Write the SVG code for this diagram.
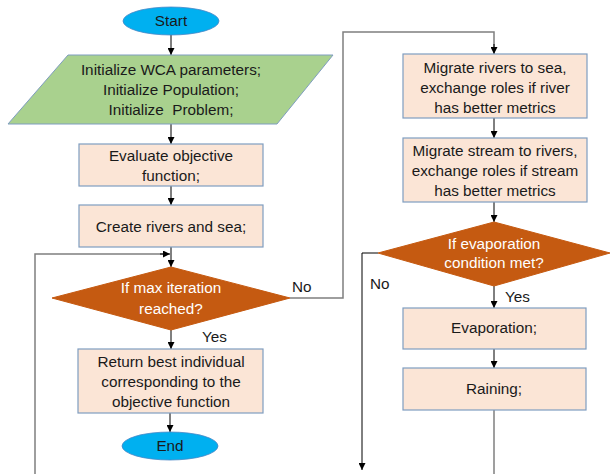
<svg xmlns="http://www.w3.org/2000/svg" width="610" height="474" viewBox="0 0 610 474">
<defs>
<marker id="ah" viewBox="0 0 10 10" refX="10" refY="5" markerWidth="7" markerHeight="7" markerUnits="userSpaceOnUse" orient="auto">
<path d="M0,0 L10,5 L0,10 z" fill="#000"/>
</marker>
</defs>
<style>
text{font-family:"Liberation Sans",Arial,sans-serif;font-size:15.3px;fill:#1a1a1a;text-anchor:middle}
.box{fill:#FBE5D6;stroke:#7F9DC0;stroke-width:1.2}
.term{fill:#00B0F0;stroke:#4A86C5;stroke-width:0.8}
.dec{fill:#C55A11;stroke:#C55A11}
.dt{fill:#fff}
.lbl{text-anchor:start}
.c{fill:none;stroke:#000;stroke-width:1}
.g{fill:none;stroke:#7F7F7F;stroke-width:1.5}
</style>
<rect width="610" height="474" fill="#fff"/>
<g id="connectors">
<line class="c" x1="171" y1="35" x2="171" y2="55" marker-end="url(#ah)"/>
<line class="c" x1="171" y1="124" x2="171" y2="144" marker-end="url(#ah)"/>
<line class="c" x1="171" y1="186" x2="171" y2="205" marker-end="url(#ah)"/>
<line class="c" x1="171" y1="247" x2="171" y2="267" marker-end="url(#ah)"/>
<polyline class="g" points="35,474 35,254 168,254"/>
<line class="c" x1="160" y1="254" x2="170" y2="254" marker-end="url(#ah)"/>
<polyline class="g" points="290,298 343,298 343,32 494,32 494,48"/>
<line class="c" x1="494" y1="44" x2="494" y2="54" marker-end="url(#ah)"/>
<line class="c" x1="171" y1="330" x2="171" y2="349" marker-end="url(#ah)"/>
<line class="c" x1="170" y1="413" x2="170" y2="432" marker-end="url(#ah)"/>
<line class="c" x1="494" y1="118" x2="494" y2="138" marker-end="url(#ah)"/>
<line class="c" x1="494" y1="202" x2="494" y2="222" marker-end="url(#ah)"/>
<polyline class="c" points="378,253 362,253 362,470" marker-end="url(#ah)"/>
<line class="c" x1="494" y1="286" x2="494" y2="308" marker-end="url(#ah)"/>
<line class="c" x1="494" y1="349" x2="494" y2="368" marker-end="url(#ah)"/>
<line class="g" x1="494" y1="410" x2="494" y2="474"/>
<text class="lbl" x="292" y="292">No</text>
<text class="lbl" x="202" y="342">Yes</text>
<text class="lbl" x="370" y="289">No</text>
<text class="lbl" x="505" y="302">Yes</text>
</g>
<g id="start">
<ellipse class="term" cx="171" cy="21" rx="48" ry="14"/>
<text x="171" y="26">Start</text>
</g>
<g id="init">
<polygon points="68,55 333,55 277,124 8,124" fill="#A9D18E" stroke="#7F9DC0" stroke-width="1"/>
<text x="171" y="75">Initialize WCA parameters;</text>
<text x="171" y="95">Initialize Population;</text>
<text x="171" y="115" xml:space="preserve">Initialize  Problem;</text>
</g>
<g id="evaluate">
<rect class="box" x="79" y="144" width="184" height="42"/>
<text x="171" y="161">Evaluate objective</text>
<text x="171" y="181">function;</text>
</g>
<g id="create">
<rect class="box" x="79" y="205" width="184" height="42"/>
<text x="171" y="232">Create rivers and sea;</text>
</g>
<g id="maxiter">
<polygon class="dec" points="171,267 290,298 171,330 52,298"/>
<text class="dt" x="171" y="293">If max iteration</text>
<text class="dt" x="171" y="314">reached?</text>
</g>
<g id="return">
<rect class="box" x="78" y="349" width="185" height="64"/>
<text x="171" y="367">Return best individual</text>
<text x="171" y="387">corresponding to the</text>
<text x="171" y="407">objective function</text>
</g>
<g id="end">
<ellipse class="term" cx="170" cy="446" rx="48" ry="14"/>
<text x="170" y="451">End</text>
</g>
<g id="migrateRivers">
<rect class="box" x="403" y="54" width="184" height="64"/>
<text x="495" y="73">Migrate rivers to sea,</text>
<text x="495" y="93">exchange roles if river</text>
<text x="495" y="113">has better metrics</text>
</g>
<g id="migrateStream">
<rect class="box" x="403" y="138" width="184" height="64"/>
<text x="495" y="156">Migrate stream to rivers,</text>
<text x="495" y="176">exchange roles if stream</text>
<text x="495" y="196">has better metrics</text>
</g>
<g id="evapcond">
<polygon class="dec" points="494,222 610,253 494,286 378,253"/>
<text class="dt" x="494" y="249">If evaporation</text>
<text class="dt" x="494" y="268">condition met?</text>
</g>
<g id="evaporation">
<rect class="box" x="403" y="308" width="183" height="41"/>
<text x="494" y="333">Evaporation;</text>
</g>
<g id="raining">
<rect class="box" x="403" y="368" width="183" height="42"/>
<text x="494" y="394">Raining;</text>
</g>
</svg>
